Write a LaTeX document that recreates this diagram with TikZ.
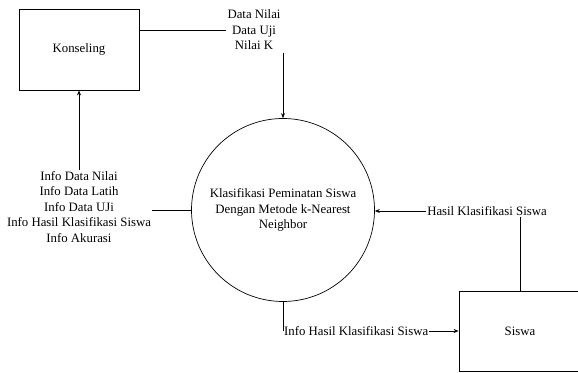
\documentclass[tikz,border=0pt]{standalone}
\usepackage{fontspec}
\setmainfont{Liberation Serif}
\usetikzlibrary{arrows.meta}
\begin{document}
\begin{tikzpicture}[x=1pt,y=1pt,
  every node/.style={font=\fontsize{12.8}{15.5}\selectfont},
  entity/.style={draw,line width=0.8pt,minimum width=120pt,minimum height=81pt,inner sep=0pt},
  proc/.style={draw,circle,line width=0.7pt,minimum size=183pt,inner sep=0pt,align=center},
  flowlbl/.style={align=center,inner sep=1pt},
  flow/.style={line width=0.8pt},
  arr/.style={flow,-{Stealth[length=5pt,width=4pt]}}]
\clip (0,0) rectangle (578,372);
% external entities
\node[entity] (kons) at (79,322.5) {Konseling};
\node[entity,minimum width=122pt,minimum height=80pt] (siswa) at (520,41) {Siswa};
% process
\node[proc] (proc) at (283,162) {Klasifikasi Peminatan Siswa\\Dengan Metode k-Nearest\\Neighbor};
% data flow labels
\node[flowlbl] (inData) at (254,342) {Data Nilai\\Data Uji\\Nilai K};
\node[flowlbl] (infoK) at (79,165) {Info Data Nilai\\Info Data Latih\\Info Data UJi\\Info Hasil Klasifikasi Siswa\\Info Akurasi};
\node[flowlbl] (hasil) at (487,161) {Hasil Klasifikasi Siswa};
\node[flowlbl,anchor=west] (infoS) at (proc.south |- siswa.west) {Info Hasil Klasifikasi Siswa};
% flows
\draw[flow] (kons.east |- inData.west) -- (inData.west);
\draw[arr] ([yshift=-2pt]inData.south -| proc.north) -- (proc.north);
\draw[flow] (proc.west) -- (infoK.east |- proc.west);
\draw[arr] (infoK.north) -- (infoK.north |- kons.south);
\draw[arr] (hasil.west) -- (hasil.west -| proc.east);
\draw[flow] (hasil.south -| siswa.north) -- (siswa.north);
\draw[flow] (proc.south) -- (infoS.west);
\draw[arr] (infoS.east) -- (siswa.west);
\end{tikzpicture}
\end{document}
